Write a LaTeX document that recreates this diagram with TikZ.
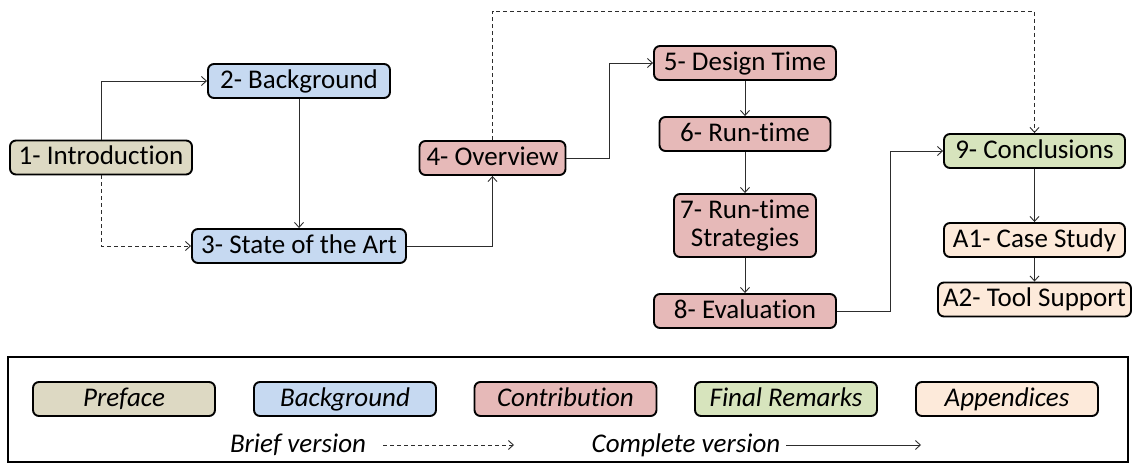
\documentclass[tikz,border=0pt]{standalone}
\usepackage{fontspec}
\setmainfont{Carlito}[Ligatures=NoCommon]
\usetikzlibrary{arrows.meta}

\definecolor{prefacefill}{RGB}{221,217,195}
\definecolor{backfill}{RGB}{198,217,241}
\definecolor{contribfill}{RGB}{230,185,184}
\definecolor{finalfill}{RGB}{215,228,189}
\definecolor{appfill}{RGB}{253,234,218}
\definecolor{linkgray}{RGB}{45,45,45}

\tikzset{
  chapter/.style={draw=black, line width=1.9pt, rounded corners=6pt,
    minimum height=34pt, inner xsep=4pt, inner ysep=0pt,
    text height=19pt, text depth=5pt, font=\fontsize{27}{28}\selectfont},
  wide/.style={minimum width=182pt},
  link/.style={->, draw=linkgray, line width=0.9pt},
  brief/.style={link, dash pattern=on 4pt off 3pt},
  >={Straight Barb[length=5pt,width=9pt]}
}

\begin{document}
\begin{tikzpicture}[x=1pt, y=-1pt]
    \useasboundingbox (0,0) rectangle (1133,463);
    % chapters
    \node[chapter, wide, fill=prefacefill] (intro) at (101,157.5) {1- Introduction};
    \node[chapter, wide, fill=backfill] (bg) at (299,81) {2- Background};
    \node[chapter, minimum width=214pt, fill=backfill] (sota) at (299,246) {3- State of the Art};
    \node[chapter, minimum width=146pt, fill=contribfill] (over) at (492.5,158) {4- Overview};
    \node[chapter, wide, fill=contribfill] (design) at (745,63) {5- Design Time};
    \node[chapter, minimum width=171pt, fill=contribfill] (runtime) at (745,134) {6- Run-time};
    \node[chapter, minimum width=142pt, minimum height=63pt, align=center,
          text height=, text depth=, fill=contribfill] (strat) at (745,225.5) {7- Run-time\\Strategies};
    \node[chapter, wide, fill=contribfill] (eval) at (745,311) {8- Evaluation};
    \node[chapter, minimum width=181pt, fill=finalfill] (concl) at (1034.5,151) {9- Conclusions};
    \node[chapter, minimum width=181pt, fill=appfill] (case) at (1034.5,240) {A1- Case Study};
    \node[chapter, minimum width=193pt, fill=appfill] (tool) at (1034.5,299.5) {A2- Tool Support};

    % reading paths
    \coordinate (skip) at (760,11);
    \draw[link] (intro.north) |- (bg.west);
    \draw[brief] (intro.south) |- (sota.west);
    \draw[link] (bg) -- (sota);
    \draw[link] (sota.east) -| (over.south);
    \draw[brief] (over.north) |- (skip) -| (concl.north);
    \draw[link] (over.east) -- ++(43,0) |- (design.west);
    \draw[link] (design) -- (runtime);
    \draw[link] (runtime) -- (strat);
    \draw[link] (strat) -- (eval);
    \draw[link] (eval.east) -- ++(53,0) |- (concl.west);
    \draw[link] (concl) -- (case);
    \draw[link] (case) -- (tool);

    % legend
    \draw[line width=1.2pt] (8,357) rectangle (1128,462);
    \foreach \name/\col/\cx [count=\i] in {Preface/prefacefill/124, Background/backfill/345,
        Contribution/contribfill/565.5, Final Remarks/finalfill/786, Appendices/appfill/1007}
      \node[chapter, wide, fill=\col, font=\fontsize{27}{28}\selectfont\itshape] (key\i) at (\cx,399) {\name};
    \node[text height=19pt, text depth=5pt, inner sep=0pt, font=\fontsize{27}{28}\selectfont\itshape] (brieftxt) at (298,445) {Brief version};
    \node[text height=19pt, text depth=5pt, inner sep=0pt, font=\fontsize{27}{28}\selectfont\itshape] (fulltxt) at (686,445) {Complete version};
    \coordinate (briefend) at (514,445);
    \coordinate (fullend) at (921,445);
    \draw[brief, shorten <=17pt] (brieftxt.east) -- (briefend);
    \draw[link, shorten <=6pt] (fulltxt.east) -- (fullend);
\end{tikzpicture}
\end{document}
